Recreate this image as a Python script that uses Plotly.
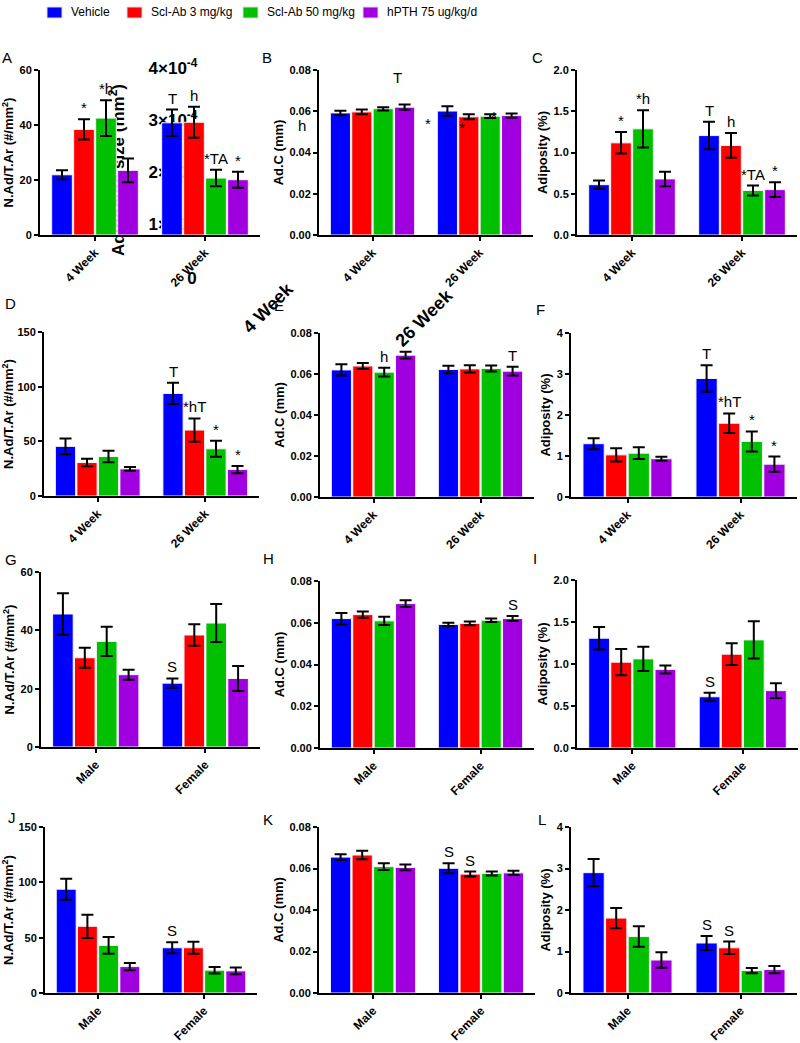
import plotly.graph_objects as go

W, H = 800, 1043
FONT = "Liberation Sans, Arial, sans-serif"

series = ["Vehicle", "Scl-Ab 3 mg/kg", "Scl-Ab 50 mg/kg", "hPTH 75 ug/kg/d"]
colors = ["#0000FF", "#FF0000", "#00C000", "#A000E0"]
weeks = ["4 Week", "26 Week"]
sexes = ["Male", "Female"]

# one inner list per x group, four treatments each
a_val = [[21.9, 38.4, 42.5, 23.5], [40.8, 41.0, 20.7, 20.1]]
a_err = [[1.6, 3.7, 6.5, 4.3], [4.8, 5.6, 3.0, 2.9]]
b_val = [[0.0592, 0.0597, 0.0612, 0.0620], [0.0601, 0.0573, 0.0576, 0.0579]]
b_err = [[0.0011, 0.0012, 0.0008, 0.0013], [0.0023, 0.0012, 0.0009, 0.0010]]
c_val = [[0.61, 1.117, 1.287, 0.68], [1.205, 1.085, 0.54, 0.55]]
c_err = [[0.05, 0.13, 0.225, 0.088], [0.167, 0.15, 0.06, 0.089]]

d_val = [[45.4, 30.6, 36.1, 24.8], [93.8, 60.3, 43.2, 24.2]]
d_err = [[7.1, 3.5, 5.2, 1.8], [9.7, 10.6, 7.4, 3.3]]
e_val = [[0.0620, 0.0639, 0.0609, 0.0692], [0.0622, 0.0625, 0.0627, 0.0614]]
e_err = [[0.0027, 0.0015, 0.0021, 0.0016], [0.0018, 0.0018, 0.0015, 0.0021]]
f_val = [[1.30, 1.028, 1.069, 0.933], [2.89, 1.80, 1.355, 0.80]]
f_err = [[0.135, 0.16, 0.145, 0.05], [0.325, 0.237, 0.244, 0.187]]

g_val = [[45.6, 30.6, 36.2, 24.8], [21.9, 38.4, 42.5, 23.5]]
g_err = [[7.1, 3.4, 5.0, 1.7], [1.6, 3.7, 6.5, 4.3]]
h_val = [[0.0620, 0.0639, 0.0609, 0.0692], [0.0592, 0.0597, 0.0612, 0.0620]]
h_err = [[0.0027, 0.0015, 0.0020, 0.0016], [0.0008, 0.0009, 0.0008, 0.0012]]
i_val = [[1.307, 1.022, 1.061, 0.935], [0.61, 1.117, 1.287, 0.683]]
i_err = [[0.133, 0.157, 0.145, 0.048], [0.048, 0.13, 0.222, 0.089]]

j_val = [[93.8, 60.3, 43.0, 23.9], [40.9, 40.9, 20.6, 20.0]]
j_err = [[9.5, 10.5, 7.6, 3.3], [5.0, 5.5, 3.0, 3.0]]
k_val = [[0.0655, 0.0665, 0.0609, 0.0605], [0.0601, 0.0573, 0.0576, 0.0579]]
k_err = [[0.0014, 0.0021, 0.0016, 0.0014], [0.0024, 0.0012, 0.0010, 0.0010]]
l_val = [[2.90, 1.805, 1.36, 0.795], [1.205, 1.089, 0.541, 0.565]]
l_err = [[0.33, 0.242, 0.246, 0.187], [0.17, 0.151, 0.063, 0.088]]

# significance letters: (group, treatment, text)
a_sig = [(0, 1, "*"), (0, 2, "*h"), (1, 0, "T"), (1, 1, "h"), (1, 2, "*TA"), (1, 3, "*")]
c_sig = [(0, 1, "*"), (0, 2, "*h"), (1, 0, "T"), (1, 1, "h"), (1, 2, "*TA"), (1, 3, "*")]
d_sig = [(1, 0, "T"), (1, 1, "*hT"), (1, 2, "*"), (1, 3, "*")]
e_sig = [(0, 2, "h"), (1, 3, "T")]
f_sig = [(1, 0, "T"), (1, 1, "*hT"), (1, 2, "*"), (1, 3, "*")]
g_sig = [(1, 0, "S")]
h_sig = [(1, 3, "S")]
i_sig = [(1, 0, "S")]
j_sig = [(1, 0, "S")]
k_sig = [(1, 0, "S"), (1, 1, "S")]
l_sig = [(1, 0, "S"), (1, 1, "S")]

NAD = "N.Ad/T.Ar (#/mm<sup>2</sup>)"
ADC = "Ad.C (mm)"
ADP = "Adiposity (%)"

BARGAP = 0.2


def fx(p):
    return p / W


def fy(p):
    return 1 - p / H


# box = (left, right, top, bottom) in pixels, lab = panel letter position
panels = [
    dict(tag="A", cats=weeks, val=a_val, err=a_err, sig=a_sig, title=NAD, ymax=60, dtick=20, fmt="d", box=(40, 260, 70, 235), lab=(7, 57)),
    dict(tag="B", cats=weeks, val=b_val, err=b_err, sig=[], title=ADC, ymax=0.08, dtick=0.02, fmt=".2f", box=(319, 533, 70, 235), lab=(267, 57)),
    dict(tag="C", cats=weeks, val=c_val, err=c_err, sig=c_sig, title=ADP, ymax=2.0, dtick=0.5, fmt=".1f", box=(577, 797, 70, 235), lab=(537, 57)),
    dict(tag="D", cats=weeks, val=d_val, err=d_err, sig=d_sig, title=NAD, ymax=150, dtick=50, fmt="d", box=(44, 259, 332, 496), lab=(10, 304)),
    dict(tag="E", cats=weeks, val=e_val, err=e_err, sig=e_sig, title=ADC, ymax=0.08, dtick=0.02, fmt=".2f", box=(320, 534, 333, 497), lab=(279, 305)),
    dict(tag="F", cats=weeks, val=f_val, err=f_err, sig=f_sig, title=ADP, ymax=4, dtick=1, fmt="d", box=(571, 797, 333, 497), lab=(540, 309)),
    dict(tag="G", cats=sexes, val=g_val, err=g_err, sig=g_sig, title=NAD, ymax=60, dtick=20, fmt="d", box=(41, 260, 572, 747), lab=(11, 559)),
    dict(tag="H", cats=sexes, val=h_val, err=h_err, sig=h_sig, title=ADC, ymax=0.08, dtick=0.02, fmt=".2f", box=(320, 534, 581, 748), lab=(268, 558)),
    dict(tag="I", cats=sexes, val=i_val, err=i_err, sig=i_sig, title=ADP, ymax=2.0, dtick=0.5, fmt=".1f", box=(577, 798, 580, 748), lab=(535, 558)),
    dict(tag="J", cats=sexes, val=j_val, err=j_err, sig=j_sig, title=NAD, ymax=150, dtick=50, fmt="d", box=(45, 257, 827, 993), lab=(12, 817)),
    dict(tag="K", cats=sexes, val=k_val, err=k_err, sig=k_sig, title=ADC, ymax=0.08, dtick=0.02, fmt=".2f", box=(319, 535, 827, 993), lab=(268, 819)),
    dict(tag="L", cats=sexes, val=l_val, err=l_err, sig=l_sig, title=ADP, ymax=4, dtick=1, fmt="d", box=(571, 797, 827, 993), lab=(542, 819)),
]

fig = go.Figure()
annotations = []
shapes = []
axes = {}

for n, p in enumerate(panels, start=1):
    xa = "x" if n == 1 else f"x{n}"
    ya = "y" if n == 1 else f"y{n}"
    for i, name in enumerate(series):
        fig.add_trace(go.Bar(
            x=p["cats"],
            y=[g[i] for g in p["val"]],
            error_y=dict(type="data", array=[g[i] for g in p["err"]],
                         color="black", thickness=2, width=6),
            marker=dict(color=colors[i], line=dict(color="#f4f4f4", width=1)),
            name=name, showlegend=False,
            xaxis=xa, yaxis=ya,
        ))

    left, right, top, bottom = p["box"]
    axes[f"xaxis{n}"] = dict(
        domain=[fx(left), fx(right)], anchor=ya, type="category",
        showline=True, linecolor="black", linewidth=2,
        ticks="outside", ticklen=4, tickwidth=2, tickcolor="black",
        tickangle=-45, showgrid=False, zeroline=False,
        tickfont=dict(family=FONT, size=12, color="black", weight="bold"),
    )
    axes[f"yaxis{n}"] = dict(
        domain=[fy(bottom), fy(top)], anchor=xa, range=[0, p["ymax"]],
        dtick=p["dtick"], tickformat=p["fmt"],
        showline=True, linecolor="black", linewidth=2,
        ticks="outside", ticklen=4, tickwidth=2, tickcolor="black",
        showgrid=False, zeroline=False,
        tickfont=dict(family=FONT, size=11, color="black", weight="bold"),
        title=dict(text=p["title"], standoff=3,
                   font=dict(family=FONT, size=13, color="black", weight="bold")),
    )

    slot = (1 - BARGAP) / 4
    for gi, si, txt in p["sig"]:
        annotations.append(dict(
            x=gi + (si - 1.5) * slot, y=p["val"][gi][si] + p["err"][gi][si],
            xref=xa, yref=ya, text=txt, showarrow=False,
            xanchor="center", yanchor="bottom", yshift=1,
            font=dict(family=FONT, size=15, color="black"),
        ))

    annotations.append(dict(
        x=fx(p["lab"][0]), y=fy(p["lab"][1]), xref="paper", yref="paper",
        text=p["tag"], showarrow=False, xanchor="center", yanchor="middle",
        font=dict(family=FONT, size=15, color="black"),
    ))

# legend row across the top: colour key box, then the name
legend_x = [47, 127, 243, 363]
for i, name in enumerate(series):
    x0 = legend_x[i]
    shapes.append(dict(
        type="rect", xref="paper", yref="paper",
        x0=fx(x0), x1=fx(x0 + 15), y0=fy(18), y1=fy(7),
        fillcolor=colors[i], line=dict(color="#d8d8e8", width=1),
    ))
    annotations.append(dict(
        x=fx(x0 + 22), y=fy(12.5), xref="paper", yref="paper", text=name,
        showarrow=False, xanchor="left", yanchor="middle",
        font=dict(family=FONT, size=12, color="black"),
    ))

# stray letters sitting in panel B
for txt, px, py in [("T", 397, 77), ("h", 302, 125), ("*", 428, 123), ("*", 462, 127), ("*", 494, 116)]:
    annotations.append(dict(
        x=fx(px), y=fy(py), xref="paper", yref="paper", text=txt, showarrow=False,
        xanchor="center", yanchor="middle",
        font=dict(family=FONT, size=15, color="black"),
    ))

# leftover tick labels of a hidden axis, rotated
for txt, px, py in [("4 Week", 268, 308), ("26 Week", 424, 318)]:
    annotations.append(dict(
        x=fx(px), y=fy(py), xref="paper", yref="paper", text=txt, showarrow=False,
        textangle=-45, xanchor="center", yanchor="middle",
        font=dict(family=FONT, size=18, color="black", weight="bold"),
    ))

# leftover axis of a hidden panel, drawn under the bars of panel A
hidden = [("4×10<sup>-4</sup>", 173, 68), ("3×10<sup>-4</sup>", 173, 120),
          ("2×10<sup>-4</sup>", 173, 172), ("1×10<sup>-4</sup>", 173, 224), ("0", 192, 276)]
for txt, px, py in hidden:
    shapes.append(dict(
        type="rect", xref="paper", yref="paper", layer="below",
        x0=fx(px - 30), x1=fx(px + 30), y0=fy(py + 8), y1=fy(py - 8),
        line=dict(width=0), fillcolor="rgba(0,0,0,0)",
        label=dict(text=txt, textposition="middle center", padding=0,
                   font=dict(family=FONT, size=17, color="black", weight="bold")),
    ))
shapes.append(dict(
    type="rect", xref="paper", yref="paper", layer="below",
    x0=fx(110), x1=fx(126), y0=fy(265), y1=fy(75),
    line=dict(width=0), fillcolor="rgba(0,0,0,0)",
    label=dict(text="Adipocyte size (mm<sup>2</sup>)", textposition="middle center",
               textangle=-90, padding=0,
               font=dict(family=FONT, size=17, color="black", weight="bold")),
))

fig.update_layout(
    width=W, height=H,
    margin=dict(l=0, r=0, t=0, b=0, autoexpand=False),
    paper_bgcolor="white", plot_bgcolor="rgba(0,0,0,0)",
    barmode="group", bargap=BARGAP, bargroupgap=0.06,
    showlegend=False,
    annotations=annotations,
    shapes=shapes,
    font=dict(family=FONT, color="black"),
    **axes,
)

# the page body has a default 8px margin; drop it so the figure fills the window
fig.write_html("out.html", config={"displayModeBar": False},
               post_script="document.body.style.margin = '0';")
